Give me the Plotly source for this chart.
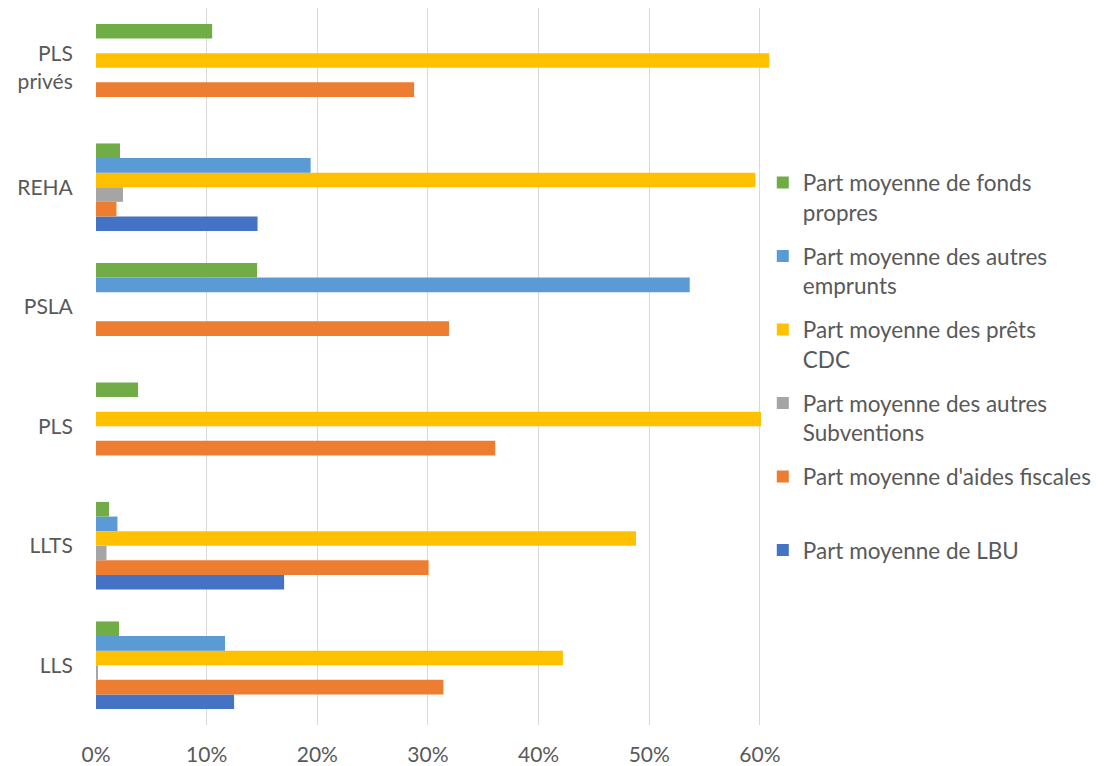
import plotly.graph_objects as go

categories = ["LLS", "LLTS", "PLS", "PSLA", "REHA", "PLS<br>privés"]

series_names = [
    "Part moyenne de LBU",
    "Part moyenne d'aides fiscales<br>\u00a0",
    "Part moyenne des autres<br>Subventions",
    "Part moyenne des prêts<br>CDC",
    "Part moyenne des autres<br>emprunts",
    "Part moyenne de fonds<br>propres",
]
colors = ["#4472C4", "#ED7D31", "#A5A5A5", "#FFC000", "#5B9BD5", "#70AD47"]

lbu = [0.1248, 0.170, 0.0, 0.0, 0.146, 0.0]
aides_fiscales = [0.314, 0.3006, 0.3608, 0.319, 0.0185, 0.2875]
autres_subventions = [0.001, 0.0095, 0.0, 0.0, 0.0244, 0.0]
prets_cdc = [0.422, 0.488, 0.601, 0.0, 0.596, 0.6085]
autres_emprunts = [0.1166, 0.0194, 0.0, 0.5366, 0.194, 0.0]
fonds_propres = [0.0208, 0.0118, 0.038, 0.1456, 0.0217, 0.105]

values = [lbu, aides_fiscales, autres_subventions, prets_cdc, autres_emprunts, fonds_propres]

tick_vals = [0, 0.1, 0.2, 0.3, 0.4, 0.5, 0.6]
tick_text = ["0%", "10%", "20%", "30%", "40%", "50%", "60%"]

fig = go.Figure()
n = len(series_names)
for i, (name, vals, col) in enumerate(zip(series_names, values, colors)):
    fig.add_trace(go.Bar(
        y=categories, x=vals, name=name, orientation="h",
        marker=dict(color=col, line=dict(width=0)),
        legendgroup=f"g{i}", legendrank=n - i,
    ))

font_family = "Lato, 'Open Sans', sans-serif"
tick_font = dict(family=font_family, size=21, color="#595959")
fig.update_layout(
    width=1103, height=758,
    margin=dict(l=88, r=329, t=0, b=41, autoexpand=False),
    paper_bgcolor="white", plot_bgcolor="white",
    barmode="group", bargap=0.267, bargroupgap=0,
    font=dict(family=font_family, size=22.5, color="#595959"),
    showlegend=True,
    legend=dict(
        x=0.972, xanchor="left", y=0.786, yanchor="top",
        traceorder="grouped", valign="top",
        tracegroupgap=12,
        font=dict(family=font_family, size=22.5, color="#595959"),
        bgcolor="rgba(0,0,0,0)",
    ),
    xaxis=dict(
        range=[0, 0.62], tickvals=tick_vals, ticktext=tick_text,
        showgrid=True, gridcolor="#D9D9D9", gridwidth=1.3,
        zeroline=False, showline=False, automargin=False,
        ticks="outside", ticklen=11, tickcolor="rgba(0,0,0,0)",
        tickfont=tick_font,
    ),
    yaxis=dict(
        type="category", categoryorder="array", categoryarray=categories,
        showgrid=False, zeroline=False, showline=False,
        ticks="outside", ticklen=18, tickcolor="rgba(0,0,0,0)",
        automargin=False, tickfont=tick_font,
    ),
)

fig.write_html("out.html")
